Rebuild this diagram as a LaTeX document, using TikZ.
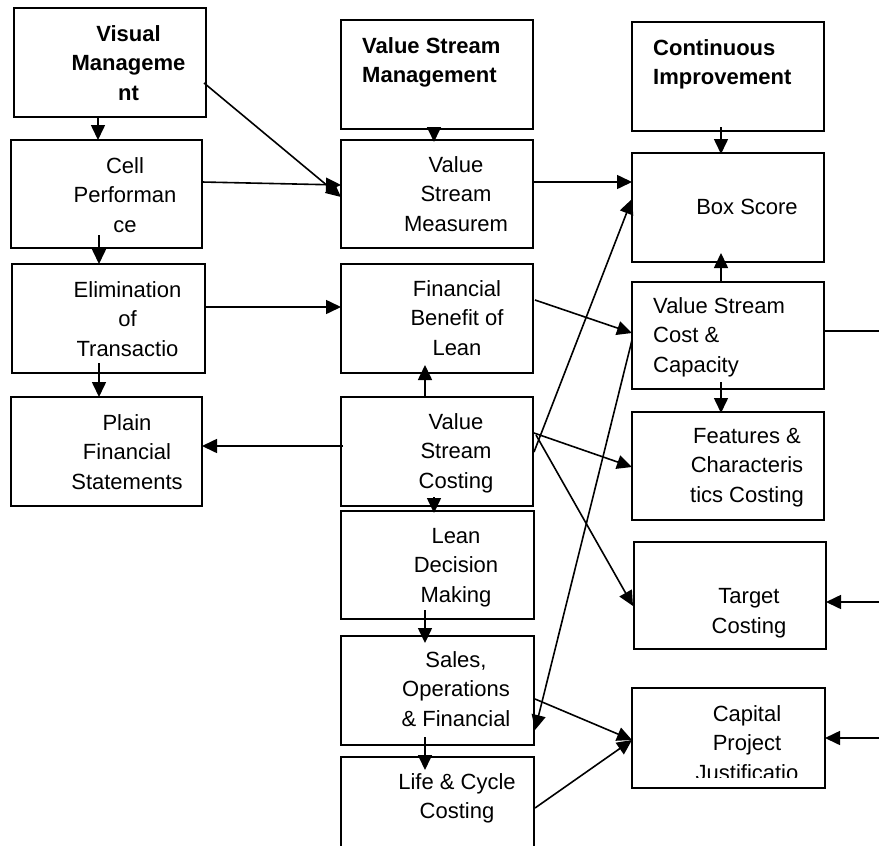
\documentclass[tikz,border=0pt]{standalone}
\usepackage{fontspec}
\setmainfont{Liberation Sans}
\usetikzlibrary{arrows.meta,calc}
\begin{document}
\begin{tikzpicture}[x=1pt,y=-1pt,
  bx/.style={draw, line width=2pt, inner sep=0pt, outer sep=0pt},
  txt/.style={align=center, inner sep=0pt, font=\fontsize{22}{29.5}\selectfont},
  txtb/.style={align=center, inner sep=0pt, font=\fontsize{22}{29.5}\selectfont\bfseries},
  txtl/.style={align=left, inner sep=0pt, anchor=west, font=\fontsize{22}{29.5}\selectfont},
  txtlb/.style={align=left, inner sep=0pt, anchor=west, font=\fontsize{22}{29.5}\selectfont\bfseries},
  con/.style={line width=1.6pt, -{Triangle[length=15pt,width=14pt]}},
  ln/.style={line width=1.6pt}]
\useasboundingbox (0,0) rectangle (879,846);
\begin{scope}
\clip (0,0) rectangle (879,846);
% boxes
\node[bx, minimum width=192pt, minimum height=109pt] (vm) at (110,62.5) {};
\node[bx, minimum width=191pt, minimum height=108pt] (cell) at (106.5,194) {};
\node[bx, minimum width=193pt, minimum height=109pt] (elim) at (108.5,318.5) {};
\node[bx, minimum width=191pt, minimum height=109pt] (plain) at (106.5,451.5) {};
\node[bx, minimum width=192pt, minimum height=109pt] (vsm) at (437,74.5) {};
\node[bx, minimum width=192pt, minimum height=108pt] (vsmeas) at (437,194) {};
\node[bx, minimum width=192pt, minimum height=109pt] (fin) at (437,318.5) {};
\node[bx, minimum width=192pt, minimum height=109pt] (vscost) at (437,451.5) {};
\node[bx, minimum width=193pt, minimum height=108pt] (lean) at (437.5,565) {};
\node[bx, minimum width=193pt, minimum height=109pt] (sales) at (437.5,690.5) {};
\node[bx, minimum width=193pt, minimum height=109pt] (life) at (437.5,811.5) {};
\node[bx, minimum width=192pt, minimum height=109pt] (ci) at (728,76.5) {};
\node[bx, minimum width=192pt, minimum height=109pt] (box) at (728,207.5) {};
\node[bx, minimum width=192pt, minimum height=107pt] (vscc) at (728,335.5) {};
\node[bx, minimum width=192pt, minimum height=108pt] (feat) at (728,466) {};
\node[bx, minimum width=192pt, minimum height=107pt] (target) at (730,595.5) {};
\node[bx, minimum width=193pt, minimum height=100pt] (cap) at (728.5,738) {};
% texts
\node[txtb] (vmT) at (128.5,65) {\strut Visual\\\strut Manageme\\\strut nt};
\node[txt] (cellT) at (125,197) {\strut Cell\\\strut Performan\\\strut ce};
\node[txt] (elimT) at (127.5,321) {\strut Elimination\\\strut of\\\strut Transactio};
\node[txt] (plainT) at (127,454) {\strut Plain\\\strut Financial\\\strut Statements};
\node[txtlb] (vsmT) at (362,62) {\strut Value Stream\\\strut Management};
\node[txtlb] (ciT) at (653,64) {\strut Continuous\\\strut Improvement};
\node[txt] (vsmeasT) at (456,196) {\strut Value\\\strut Stream\\\strut Measurem};
\node[txt] (boxT) at (747,209) {\strut Box Score};
\node[txt] (finT) at (457,320) {\strut Financial\\\strut Benefit of\\\strut Lean};
\node[txt] (vscostT) at (456,453) {\strut Value\\\strut Stream\\\strut Costing};
\node[txtl] (vsccT) at (653,337) {\strut Value Stream\\\strut Cost \&\\\strut Capacity};
\node[txt] (featT) at (747,467) {\strut Features \&\\\strut Characteris\\\strut tics Costing};
\node[txt] (leanT) at (456,567) {\strut Lean\\\strut Decision\\\strut Making};
\node[txt] (targetT) at (749,612.5) {\strut Target\\\strut Costing};
\node[txt] (salesT) at (456,691) {\strut Sales,\\\strut Operations\\\strut \& Financial};
\node[txt] (lifeT) at (457,798) {\strut Life \& Cycle\\\strut Costing};
\begin{scope}
\clip (640,690) rectangle (815,777);
\node[txt] (capT) at (747,745) {\strut Capital\\\strut Project\\\strut Justificatio};
\end{scope}
% free ends
\coordinate (r1) at (879,331);
\coordinate (r2) at (879,602);
\coordinate (r3) at (879,738);
% connectors
\draw[con] ($(vm.north east)+(-2,75)$) -- ($(vsmeas.north west)+(0,57)$);
\draw[con] ($(cell.north east)+(0,42)$) -- ($(vsmeas.north west)+(0,45)$);
\draw[con] ($(vm.south west)+(84,0)$) -- ($(cell.north west)+(87,0)$);
\draw[con] ($(cell.south west)+(88,-13)$) -- ($(elim.north west)+(87,0)$);
\draw[con] ($(elim.south west)+(87,-10)$) -- ($(plain.north west)+(88,0)$);
\draw[con] ($(elim.north east)+(0,43)$) -- ($(fin.north west)+(0,43)$);
\draw[con] ($(vscost.north west)+(2,49)$) -- ($(plain.north east)+(0,49)$);
\draw[con] ($(vsm.south west)+(93,-2)$) -- ($(vsmeas.north west)+(93,2)$);
\draw[con] ($(vsmeas.north east)+(0,42)$) -- ($(box.north west)+(0,29)$);
\draw[con] ($(ci.south west)+(89,-4)$) -- ($(box.north west)+(89,1)$);
\draw[con] ($(vscc.north west)+(89,0)$) -- ($(box.south west)+(89,-9)$);
\draw[con] ($(vscost.north west)+(84,0)$) -- ($(fin.south west)+(84,-8)$);
\draw[con] ($(fin.north east)+(2,36)$) -- ($(vscc.north west)+(0,51)$);
\draw[con] ($(vscc.south west)+(89,-7)$) -- ($(feat.north west)+(89,1)$);
\draw[con] ($(vscost.north east)+(1,36)$) -- ($(feat.north west)+(0,55)$);
\draw[con] ($(vscost.north east)+(3,38)$) -- ($(target.north west)+(-1,64)$);
\draw[con] ($(vscost.north east)+(1,55)$) -- ($(box.north west)+(0,46)$);
\draw[con] ($(vscc.north west)+(0,58)$) -- ($(sales.north east)+(1,94)$);
\draw[con] ($(vscost.south west)+(93,-9)$) -- ($(lean.north west)+(93,2)$);
\draw[con] ($(lean.south west)+(84,-9)$) -- ($(sales.north west)+(84,7)$);
\draw[con] ($(sales.south west)+(84,-8)$) -- ($(life.north west)+(84,13)$);
\draw[con] ($(sales.north east)+(1,63)$) -- ($(cap.north west)+(0,52)$);
\draw[con] ($(life.north east)+(1,51)$) -- ($(cap.north west)+(0,52)$);
\draw[ln] ($(vscc.north east)+(0,49)$) -- (r1);
\draw[con] (r2) -- ($(target.north east)+(0,60)$);
\draw[con] (r3) -- (cap.east);
\end{scope}
\end{tikzpicture}
\end{document}
